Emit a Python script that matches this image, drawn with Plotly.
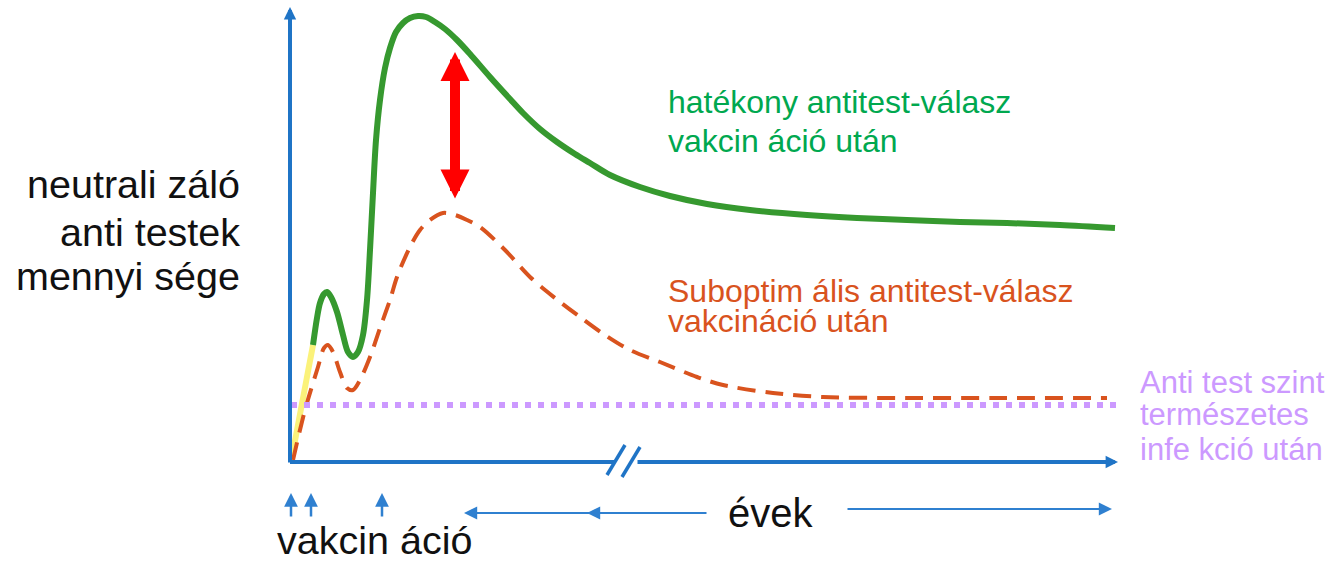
import plotly.graph_objects as go

# ---- data (arbitrary units: time since first dose, antibody level) ----
effective_t = [23, 27, 30, 34, 37, 41, 47, 53, 58, 63, 68, 73, 77, 80, 83, 86, 90, 95, 100, 106,
               113, 120, 128, 136, 145, 155, 167, 180, 200, 220, 233, 250, 267, 285, 300, 320,
               350, 380, 417, 460, 517, 567, 617, 670, 717, 770, 825]
effective_level = [117, 144, 159, 168, 170, 165, 150, 127, 110, 105, 110, 127, 162, 212, 269, 322,
                   362, 394, 414, 430, 439, 444, 446, 445, 440, 433, 422, 408, 385, 363, 349, 333,
                   320, 308, 299, 287, 275, 266, 258, 252, 247, 244, 242, 240, 239, 237, 234]

initial_t = [1, 23]
initial_level = [0, 117]

subopt_t = [3, 15, 28, 34, 38, 43, 50, 57, 63, 70, 80, 90, 100, 107, 120, 130, 140, 153, 165,
            177, 190, 215, 240, 265, 290, 315, 340, 370, 407, 433, 483, 533, 617, 710, 817]
subopt_level = [2, 52, 95, 114, 117, 110, 90, 74, 72, 82, 105, 134, 162, 185, 215, 232, 242, 249,
                247, 242, 235, 212, 185, 164, 145, 127, 112, 100, 85, 77, 69, 65, 64, 64, 64]

natural_t = [1, 830]
natural_level = [57, 57]

dose_times = [1, 21, 92]

# ---- styling ----
FONT = "Liberation Sans, Arial, sans-serif"
AXIS_BLUE = "#1f74c6"
ARROW_BLUE = "#2f80d0"
GREEN_LINE = "#36992f"
GREEN_TXT = "#00a84f"
ORANGE = "#d9531e"
PURPLE = "#cc99ff"

fig = go.Figure()

fig.add_trace(go.Scatter(x=initial_t, y=initial_level, mode="lines",
                         line=dict(color="#fbf27a", width=6), hoverinfo="skip"))
fig.add_trace(go.Scatter(x=subopt_t, y=subopt_level, mode="lines",
                         line=dict(color=ORANGE, width=4, dash="18px,10px", shape="spline", smoothing=0.9),
                         hoverinfo="skip"))
fig.add_trace(go.Scatter(x=natural_t, y=natural_level, mode="lines",
                         line=dict(color=PURPLE, width=6, dash="6px,7px"), hoverinfo="skip"))
fig.add_trace(go.Scatter(x=effective_t, y=effective_level, mode="lines",
                         line=dict(color=GREEN_LINE, width=6, shape="spline", smoothing=0.9),
                         hoverinfo="skip"))

shapes = []
# x axis first segment (before the break)
shapes.append(dict(type="line", xref="x", yref="y", x0=0, y0=0, x1=324, y1=0,
                   line=dict(color=AXIS_BLUE, width=4)))
# break marks
shapes.append(dict(type="line", xref="x", yref="y", x0=317, y0=-13, x1=335, y1=17,
                   line=dict(color=AXIS_BLUE, width=3.5)))
shapes.append(dict(type="line", xref="x", yref="y", x0=332, y0=-15, x1=350, y1=15,
                   line=dict(color=AXIS_BLUE, width=3.5)))

ann = []


def arrow(x, y, ax, ay, color, width, size, side="end"):
    ann.append(dict(x=x, y=y, ax=ax, ay=ay, xref="x", yref="y", axref="x", ayref="y",
                    text="", showarrow=True, arrowhead=2, startarrowhead=2, arrowside=side,
                    arrowwidth=width, arrowsize=size, startarrowsize=size,
                    arrowcolor=color, standoff=0, startstandoff=0))


# axes with arrow heads
arrow(0, 455, 0, -2, AXIS_BLUE, 4, 0.62)
arrow(828, 0, 346, 0, AXIS_BLUE, 4, 0.62)
# red double arrow
arrow(165, 410, 165, 262, "#ff0000", 10, 0.58, side="end+start")
# vaccination arrows
for t in dose_times:
    arrow(t, -31, t, -56, ARROW_BLUE, 2.5, 1.1)
# years arrows
arrow(174, -51, 418, -51, ARROW_BLUE, 2.2, 1.2)
arrow(297, -51, 315, -51, ARROW_BLUE, 2.2, 1.2)
arrow(822, -47, 556, -47, ARROW_BLUE, 2.2, 1.2)


def text(s, x, y, size, color, xanchor="left"):
    ann.append(dict(text=s, x=x, y=y, xref="x", yref="y", showarrow=False,
                    xanchor=xanchor, yanchor="middle",
                    font=dict(family=FONT, size=size, color=color)))


# y axis label (right aligned)
text("neutrali záló", -48, 462 - 184, 39.5, "#111111", "right")
text("anti testek", -48, 462 - 232, 39.5, "#111111", "right")
text("mennyi sége", -48, 462 - 276, 39.5, "#111111", "right")
# series labels
text("hatékony antitest-válasz", 376, 462 - 102, 32, GREEN_TXT)
text("vakcin áció után", 376, 462 - 141, 32, GREEN_TXT)
text("Suboptim ális antitest-válasz", 376, 462 - 291, 32, ORANGE)
text("vakcináció után", 376, 462 - 321, 32, ORANGE)
text("Anti test szint", 848, 462 - 382, 31, PURPLE)
text("természetes", 848, 462 - 414, 31, PURPLE)
text("infe kció után", 848, 462 - 449, 31, PURPLE)
# bottom labels
text("vakcin áció", -15, 462 - 540, 39.5, "#111111")
text("évek", 480, 462 - 513, 40, "#111111", "center")

fig.update_layout(
    width=1332, height=562,
    margin=dict(l=0, r=0, t=0, b=0),
    paper_bgcolor="white", plot_bgcolor="white",
    showlegend=False,
    xaxis=dict(range=[-290, 1042], visible=False, fixedrange=True),
    yaxis=dict(range=[-100, 462], visible=False, fixedrange=True),
    shapes=shapes,
    annotations=ann,
)

fig.write_html("out.html", config={"displayModeBar": False},
               post_script="document.body.style.margin='0';document.body.style.overflow='hidden';")
